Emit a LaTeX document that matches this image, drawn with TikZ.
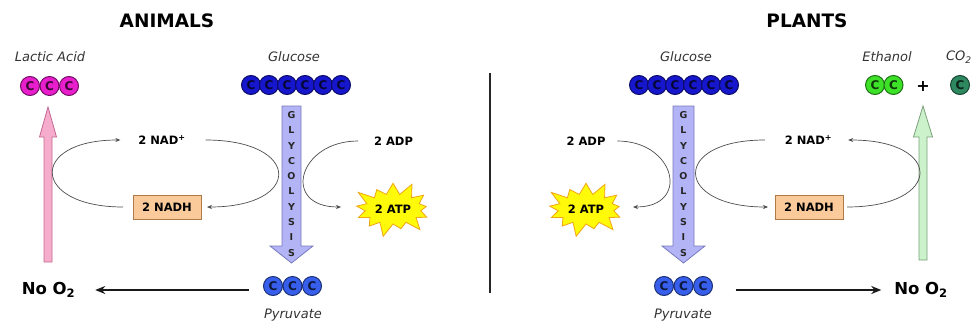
\documentclass[tikz,border=0pt]{standalone}
\usepackage{fontspec}
\setmainfont{DejaVu Sans}
\usetikzlibrary{arrows.meta,shapes.symbols}

\definecolor{glucoseblue}{RGB}{22,22,205}
\definecolor{pyruvblue}{RGB}{55,95,235}
\definecolor{lacticmag}{RGB}{232,30,205}
\definecolor{ethgreen}{RGB}{60,225,40}
\definecolor{cotwo}{RGB}{45,135,95}
\definecolor{glyfill}{RGB}{178,180,246}
\definecolor{glyedge}{RGB}{120,122,190}
\definecolor{pinkfill}{RGB}{246,172,204}
\definecolor{pinkedge}{RGB}{196,104,146}
\definecolor{mintfill}{RGB}{204,242,204}
\definecolor{mintedge}{RGB}{122,160,122}
\definecolor{peach}{RGB}{250,202,154}
\definecolor{peachedge}{RGB}{176,122,72}
\definecolor{staryellow}{RGB}{255,250,10}
\definecolor{starorange}{RGB}{240,165,20}

\begin{document}
\begin{tikzpicture}[x=1pt,y=-1pt,
  every node/.style={inner sep=0pt, outer sep=0pt},
  headtext/.style={font=\fontsize{18.5}{20}\selectfont\bfseries},
  mollabel/.style={font=\fontsize{13}{15}\selectfont\itshape, text=black!80},
  chem/.style={font=\fontsize{11.5}{13}\selectfont\bfseries},
  nooxy/.style={font=\fontsize{16.5}{18}\selectfont\bfseries},
  carbon/.style={circle, minimum size=19pt, draw=#1!50!black, fill=#1,
    line width=1pt, font=\fontsize{12}{12}\selectfont\bfseries, text=#1!25!black},
  nadhbox/.style={chem, draw=peachedge, fill=peach, line width=0.8pt,
    minimum width=68pt, minimum height=24pt},
  atpstar/.style={chem, starburst, starburst points=13, starburst point height=15pt,
    fill=staryellow, draw=starorange, line width=0.8pt,
    minimum width=86pt, minimum height=60pt},
  cyc/.style={draw=black!70, line width=0.7pt, -{Stealth[length=5pt,width=4pt]}},
  bigarrow/.style={draw=black!90, line width=2pt, -{Stealth[length=10pt,width=8pt]}},
  glyarrow/.style={fill=glyfill, draw=glyedge, line width=0.8pt},
  pinkarrow/.style={fill=pinkfill, draw=pinkedge, line width=0.8pt},
  mintarrow/.style={fill=mintfill, draw=mintedge, line width=0.8pt},
  glyletter/.style={font=\fontsize{9.5}{9.5}\selectfont\bfseries, text=black!85}
]
\useasboundingbox (0,0) rectangle (971,324);

% ---------- titles and divider
\node[headtext] (tA) at (167,21) {ANIMALS};
\node[headtext] (tP) at (807,21) {PLANTS};
\draw[line width=1.4pt, black!85] (490,73) -- (490,293);

% ---------- glycolysis arrows
\draw[glyarrow] (282,106) -- (301,106) -- (301,246) -- (313,246) -- (291.5,263)
  -- (270,246) -- (282,246) -- cycle;
\draw[glyarrow] (673,106) -- (694,106) -- (694,246) -- (705,246) -- (683.5,263)
  -- (662,246) -- (673,246) -- cycle;
\foreach \l [count=\k from 0] in {G,L,Y,C,O,L,Y,S,I,S} {
  \node[glyletter] (gla\k) at (291.5,115+15.3*\k) {\l};
  \node[glyletter] (glp\k) at (683.5,115+15.3*\k) {\l};
}

% ---------- product arrows
\draw[pinkarrow] (44,262) -- (44,137) -- (39.5,137) -- (48,107) -- (56.5,137)
  -- (52,137) -- (52,262) -- cycle;
\draw[mintarrow] (919,260) -- (919,137) -- (913.5,137) -- (923,106) -- (932.5,137)
  -- (927,137) -- (927,260) -- cycle;

% ---------- molecules
\node[mollabel] (lacL) at (50,57) {Lactic Acid};
\foreach \i in {0,1,2} \node[carbon=lacticmag] (lac\i) at (30+19.5*\i,86) {C};

\node[mollabel] (glcAL) at (294,57) {Glucose};
\foreach \i in {0,...,5} \node[carbon=glucoseblue] (glcA\i) at (251+18*\i,85) {C};
\node[mollabel] (glcPL) at (686,57) {Glucose};
\foreach \i in {0,...,5} \node[carbon=glucoseblue] (glcP\i) at (639+18*\i,85) {C};

\foreach \i in {0,1,2} \node[carbon=pyruvblue] (pyrA\i) at (273+19.5*\i,286) {C};
\node[mollabel] (pyrAL) at (293,315) {Pyruvate};
\foreach \i in {0,1,2} \node[carbon=pyruvblue] (pyrP\i) at (664+19.5*\i,286) {C};
\node[mollabel] (pyrPL) at (683,315) {Pyruvate};

\node[mollabel] (ethL) at (887,57) {Ethanol};
\foreach \i in {0,1} \node[carbon=ethgreen] (eth\i) at (875+18.5*\i,85) {C};
\node[font=\fontsize{16}{16}\selectfont\bfseries] (plus) at (923,86) {+};
\node[mollabel, anchor=west] (co2L) at (946,57) {CO\textsubscript{2}};
\node[carbon=cotwo] (co2) at (960,85) {C};

% ---------- NAD cycles
\node[chem] (nadpA) at (162,140) {2 NAD\textsuperscript{+}};
\node[nadhbox] (nadhA) at (167,207) {2 NADH};
\draw[cyc] ([xshift=20pt]nadpA.east) .. controls +(96,0) and +(96,0) .. ([xshift=6pt]nadhA.east);
\draw[cyc] ([xshift=-10pt]nadhA.west) .. controls +(-92,0) and +(-92,0) .. ([xshift=-18pt]nadpA.west);

\node[chem] (nadpP) at (808.5,140) {2 NAD\textsuperscript{+}};
\node[nadhbox] (nadhP) at (809,207) {2 NADH};
\draw[cyc] ([xshift=-20pt]nadpP.west) .. controls +(-94,0) and +(-94,0) .. ([xshift=-7pt]nadhP.west);
\draw[cyc] ([xshift=4pt]nadhP.east) .. controls +(96,0) and +(96,0) .. ([xshift=16pt]nadpP.east);

% ---------- ATP yield
\node[chem] (adpA) at (393.5,141) {2 ADP};
\node[atpstar] (atpA) at (393,209) {2 ATP};
\draw[cyc] ([xshift=-16pt]adpA.west) .. controls +(-60,0) and +(-60,0) .. (341,207);

\node[chem] (adpP) at (586,141) {2 ADP};
\node[atpstar] (atpP) at (586,209) {2 ATP};
\draw[cyc] ([xshift=12pt]adpP.east) .. controls +(58,0) and +(58,0) .. (633,207);

% ---------- anaerobic branch
\node[nooxy] (noA) at (48.5,290) {No O\textsubscript{2}};
\draw[bigarrow] ([xshift=-15pt]pyrA0.west |- noA.east) -- ([xshift=20pt]noA.east);
\node[nooxy] (noP) at (921,290) {No O\textsubscript{2}};
\draw[bigarrow] ([xshift=23pt]pyrP2.east |- noP.west) -- ([xshift=-13pt]noP.west);
\end{tikzpicture}
\end{document}
